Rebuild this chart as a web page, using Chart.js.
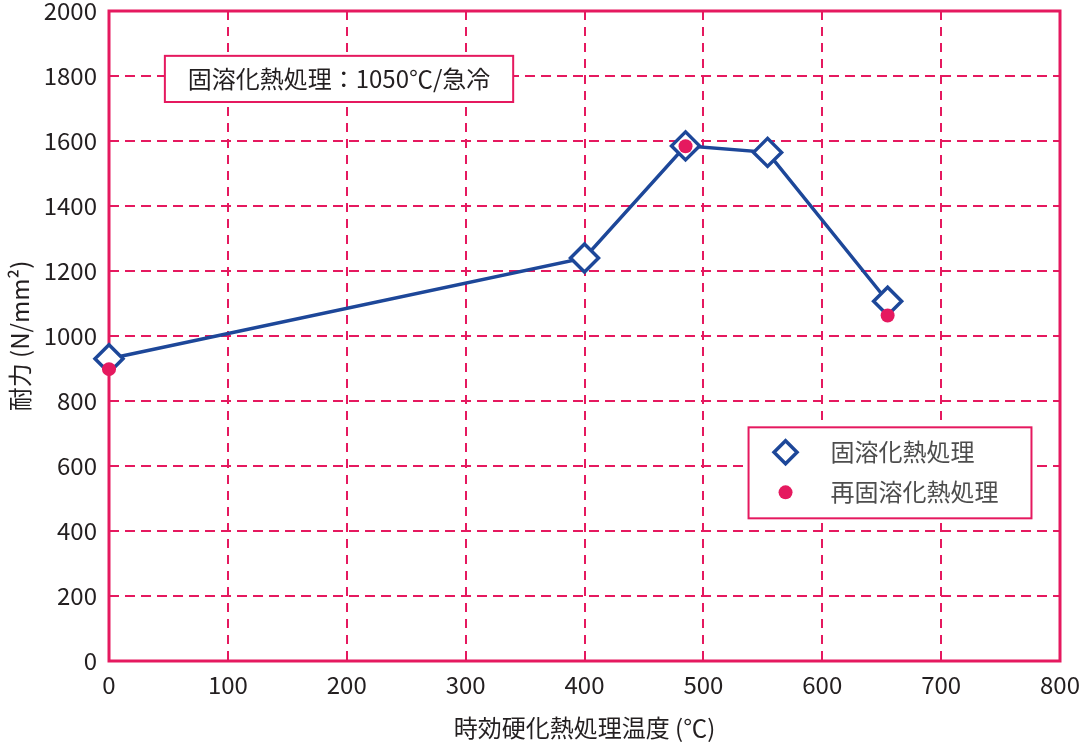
<!DOCTYPE html>
<html>
<head>
<meta charset="utf-8">
<script src="https://cdn.jsdelivr.net/npm/chart.js@4"></script>
<style>
  body { margin: 0; background: #fff; }
</style>
</head>
<body>
<canvas id="grafico" width="1079" height="742"></canvas>
<script>
// datos
const seriesNames = ['固溶化熱処理', '再固溶化熱処理']
const tempSolucion = [0, 400, 485, 554, 655]
const resistSolucion = [930, 1240, 1585, 1565, 1107]
const tempResolucion = [0, 485, 655]
const resistResolucion = [898, 1584, 1063]
const xTicks = [0, 100, 200, 300, 400, 500, 600, 700, 800]
const yTicks = [0, 200, 400, 600, 800, 1000, 1200, 1400, 1600, 1800, 2000]
const nota = '固溶化熱処理：1050℃/急冷'

const PINK = '#e5195f'
const BLUE = '#1d4799'
const FONT = "'Noto Sans CJK JP', 'Noto Sans', sans-serif"

const toPoints = (xs, ys) => xs.map((x, i) => ({ x: x, y: ys[i] }))

//marco rosa alrededor del area
const marco = {
    id: 'marco',
    beforeDatasetsDraw(chart) {
        const { ctx, chartArea: a } = chart
        ctx.save()
        ctx.strokeStyle = PINK
        ctx.lineWidth = 3
        ctx.strokeRect(a.left, a.top, a.right - a.left, a.bottom - a.top)
        ctx.restore()
    }
}

//nota y leyenda dibujadas dentro del area
const cajas = {
    id: 'cajas',
    afterDraw(chart) {
        const { ctx } = chart
        const sx = chart.scales.x, sy = chart.scales.y
        ctx.save()
        // nota
        let x0 = sx.getPixelForValue(47), x1 = sx.getPixelForValue(340)
        let y0 = sy.getPixelForValue(1862), y1 = sy.getPixelForValue(1720)
        ctx.fillStyle = '#fff'
        ctx.fillRect(x0, y0, x1 - x0, y1 - y0)
        ctx.strokeStyle = PINK
        ctx.lineWidth = 2
        ctx.strokeRect(x0, y0, x1 - x0, y1 - y0)
        ctx.fillStyle = '#231f20'
        ctx.font = '24px ' + FONT
        ctx.textAlign = 'center'
        ctx.textBaseline = 'middle'
        ctx.fillText(nota, (x0 + x1) / 2, (y0 + y1) / 2)

        // leyenda
        x0 = sx.getPixelForValue(538); x1 = sx.getPixelForValue(776)
        y0 = sy.getPixelForValue(719); y1 = sy.getPixelForValue(439)
        ctx.fillStyle = '#fff'
        ctx.fillRect(x0, y0, x1 - x0, y1 - y0)
        ctx.strokeStyle = PINK
        ctx.lineWidth = 2
        ctx.strokeRect(x0, y0, x1 - x0, y1 - y0)
        chart.data.datasets.forEach((ds, i) => {
            const cy = y0 + 25 + i * 40
            ctx.fillStyle = ds.pointBackgroundColor
            ctx.strokeStyle = ds.pointBorderColor
            ctx.lineWidth = ds.pointBorderWidth
            Chart.helpers.drawPoint(ctx, {
                pointStyle: ds.pointStyle,
                radius: i === 0 ? 11.5 : 7,
                borderWidth: ds.pointBorderWidth
            }, x0 + 37, cy)
            ctx.fillStyle = '#4d4d4d'
            ctx.font = '24px ' + FONT
            ctx.textAlign = 'left'
            ctx.textBaseline = 'middle'
            ctx.fillText(ds.label, x0 + 82, cy)
        })
        ctx.restore()
    }
}

const ctx = document.getElementById('grafico').getContext('2d')
new Chart(ctx, {
    type: 'scatter',
    data: {
        datasets: [{
            label: seriesNames[0],
            data: toPoints(tempSolucion, resistSolucion),
            showLine: true,
            clip: false,
            borderColor: BLUE,
            borderWidth: 3.5,
            pointStyle: 'rectRot',
            pointRadius: 14,
            pointBorderWidth: 3.5,
            pointBorderColor: BLUE,
            pointBackgroundColor: '#fff',
            order: 1
        }, {
            label: seriesNames[1],
            data: toPoints(tempResolucion, resistResolucion),
            clip: false,
            pointStyle: 'circle',
            pointRadius: 7,
            pointBorderWidth: 0,
            pointBorderColor: PINK,
            pointBackgroundColor: PINK,
            order: 0
        }]
    },
    options: {
        responsive: false,
        animation: false,
        devicePixelRatio: 1,
        layout: { autoPadding: false, padding: { top: 11, right: 19, left: 0, bottom: 0 } },
        plugins: { legend: { display: false }, tooltip: { enabled: false } },
        scales: {
            x: {
                type: 'linear',
                min: 0, max: 800,
                afterBuildTicks: s => { s.ticks = xTicks.map(v => ({ value: v })) },
                afterFit: s => { s.height = 81; s.paddingLeft = 0; s.paddingRight = 0 },
                grid: { color: PINK, lineWidth: 2, drawTicks: false },
                border: { display: false, dash: [9, 7] },
                ticks: { color: '#231f20', padding: 12, callback: v => String(v), font: { family: FONT, size: 24, lineHeight: 1 } },
                title: { display: true, text: '時効硬化熱処理温度 (℃)', color: '#231f20', padding: { top: 2, bottom: 0 }, font: { family: FONT, size: 24 } }
            },
            y: {
                min: 0, max: 2000,
                afterBuildTicks: s => { s.ticks = yTicks.map(v => ({ value: v })) },
                afterFit: s => { s.width = 109; s.paddingTop = 0; s.paddingBottom = 0 },
                grid: { color: PINK, lineWidth: 2, drawTicks: false },
                border: { display: false, dash: [10, 6] },
                ticks: { color: '#231f20', padding: 12, callback: v => String(v), font: { family: FONT, size: 24, lineHeight: 1 } },
                title: { display: true, text: '耐力 (N/mm²)', color: '#231f20', padding: { top: 5, bottom: 0 }, font: { family: FONT, size: 24 } }
            }
        }
    },
    plugins: [marco, cajas]
})
</script>
</body>
</html>
